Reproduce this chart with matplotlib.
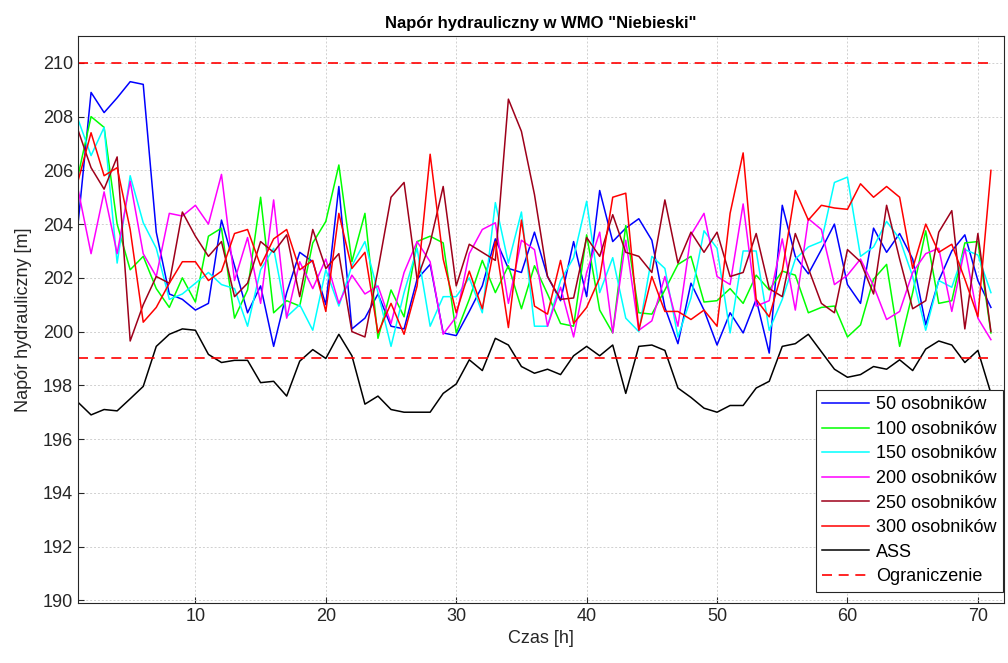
import numpy as np
import matplotlib
matplotlib.use('Agg')
import matplotlib.pyplot as plt

plt.rcParams['font.family'] = ['Liberation Sans', 'DejaVu Sans']

# czas symulacji [h]
t = np.arange(1, 72)

# napor dla kolejnych liczebnosci populacji
h50 = [204.0, 208.9, 208.15, 208.7, 209.3, 209.2, 203.7, 201.4, 201.2, 200.8, 201.05,
       204.15, 202.45, 200.7, 201.7, 199.45, 201.45, 202.95, 202.6, 201.0, 205.4, 200.1, 200.5,
       201.4, 200.2, 200.1, 201.95, 202.5, 199.95, 199.85, 200.75, 201.7, 203.45, 202.35, 202.2,
       203.7, 202.05, 201.15, 203.35, 201.3, 205.25, 203.35, 203.85, 204.2, 203.4, 200.9, 199.55, 201.8,
       200.8, 199.5, 200.7, 199.95, 201.2, 199.2, 204.7, 202.8, 202.15, 203.05, 204.0, 201.75,
       201.05, 203.85, 202.95, 203.65, 202.7, 200.25, 201.9, 203.0, 203.6, 201.9, 200.9]
h100 = [205.8, 208.0, 207.6, 204.0, 202.3, 202.8, 201.6, 200.9, 202.0, 201.1, 203.55,
        203.85, 200.5, 201.55, 205.0, 200.7, 201.15, 200.95, 203.3, 204.1, 206.2, 202.6, 204.4,
        199.75, 201.55, 200.55, 203.35, 203.55, 203.3, 199.95, 201.2, 202.65, 201.45, 202.45, 200.85,
        202.45, 201.4, 200.3, 200.2, 203.6, 200.8, 199.95, 203.95, 200.7, 200.65, 201.55, 202.5, 202.8,
        201.1, 201.15, 201.6, 201.05, 202.1, 201.55, 202.25, 202.1, 200.7, 200.9, 200.95, 199.8,
        200.25, 201.95, 202.5, 199.45, 201.45, 203.75, 201.05, 201.15, 203.3, 203.35, 199.95]
h150 = [207.9, 206.55, 207.6, 202.55, 205.8, 204.05, 203.1, 201.2, 201.4, 201.8, 202.2,
        201.75, 201.6, 200.2, 202.3, 203.1, 200.55, 201.0, 200.05, 202.3, 200.95, 202.45, 203.35,
        201.45, 199.45, 201.45, 203.1, 200.2, 201.3, 201.3, 202.0, 200.7, 204.8, 202.55, 204.45,
        200.2, 200.2, 201.9, 202.75, 204.85, 201.45, 202.75, 200.5, 200.0, 202.8, 202.35, 199.8, 201.25,
        203.75, 203.1, 199.95, 203.0, 203.0, 200.05, 201.2, 202.7, 203.15, 203.35, 205.55, 205.75,
        202.8, 203.15, 204.1, 203.45, 202.05, 200.05, 201.9, 201.65, 203.05, 202.85, 201.45]
h200 = [205.3, 202.9, 205.2, 202.9, 205.6, 202.9, 202.05, 204.4, 204.3, 204.7, 204.0,
        205.85, 201.9, 203.5, 201.05, 204.9, 200.5, 202.6, 201.6, 202.7, 201.05, 202.1, 201.4,
        201.7, 200.3, 202.2, 203.35, 202.6, 199.9, 200.55, 202.9, 203.8, 204.05, 201.05, 203.4,
        203.05, 200.2, 201.65, 199.8, 202.2, 203.7, 199.95, 203.4, 200.05, 200.4, 202.05, 200.2, 203.6,
        204.4, 202.05, 201.75, 204.75, 200.95, 201.15, 203.45, 200.8, 204.2, 203.8, 201.75, 202.1,
        202.7, 201.7, 200.45, 200.75, 202.2, 202.9, 203.1, 200.75, 203.1, 200.5, 199.7]
h250 = [207.5, 206.1, 205.3, 206.5, 199.65, 201.0, 202.05, 201.8, 204.45, 203.55, 202.8,
        203.35, 201.3, 201.8, 203.35, 202.95, 203.6, 201.3, 203.8, 202.35, 202.9, 200.0, 199.8,
        202.3, 205.0, 205.55, 201.95, 203.3, 205.4, 201.7, 203.25, 202.95, 202.65, 208.65, 207.45,
        205.1, 202.05, 201.2, 201.25, 203.5, 202.8, 204.35, 202.95, 202.8, 202.2, 204.9, 202.55, 203.7,
        202.95, 203.7, 202.05, 202.2, 203.65, 201.6, 201.3, 203.65, 202.35, 201.05, 200.7, 203.05,
        202.6, 201.4, 204.7, 202.7, 200.85, 201.15, 203.7, 204.5, 200.1, 203.65, 200.0]
h300 = [205.6, 207.4, 205.8, 206.1, 203.8, 200.35, 200.9, 201.8, 202.6, 202.6, 201.9,
        202.25, 203.65, 203.8, 202.45, 203.45, 203.8, 202.3, 202.65, 200.75, 204.4, 202.35, 202.95,
        199.95, 201.05, 199.9, 201.7, 206.6, 202.7, 200.7, 202.25, 200.85, 203.35, 200.15, 204.15,
        200.95, 200.65, 202.65, 200.3, 200.9, 202.0, 205.0, 205.15, 200.05, 202.05, 200.75, 200.75, 200.45,
        200.8, 200.2, 204.4, 206.65, 201.2, 200.55, 202.25, 205.25, 204.15, 204.7, 204.6, 204.55,
        205.5, 205.0, 205.4, 205.0, 202.35, 204.0, 202.95, 203.25, 201.95, 200.55, 206.0]
h_ass = [197.37, 196.9, 197.1, 197.05, 197.5, 197.96, 199.45, 199.9, 200.1, 200.05, 199.15,
         198.85, 198.93, 198.93, 198.1, 198.15, 197.6, 198.9, 199.33, 199.0, 199.9, 199.1, 197.3,
         197.6, 197.1, 197.0, 197.0, 197.0, 197.7, 198.05, 198.95, 198.55, 199.75, 199.5, 198.7,
         198.45, 198.6, 198.4, 199.1, 199.45, 199.1, 199.5, 197.7, 199.45, 199.5, 199.3, 197.9, 197.55,
         197.15, 197.0, 197.25, 197.25, 197.9, 198.15, 199.45, 199.55, 199.9, 199.25, 198.6, 198.3,
         198.4, 198.7, 198.6, 198.95, 198.55, 199.35, 199.65, 199.5, 198.85, 199.3, 197.7]

h_max = 210
h_min = 199

serie = [h50, h100, h150, h200, h250, h300, h_ass]
etykiety = ['50 osobników', '100 osobników', '150 osobników', '200 osobników',
            '250 osobników', '300 osobników', 'ASS']
kolory = ['#0000ff', '#00ff00', '#00ffff', '#ff00ff', (0.62, 0.0, 0.1), '#ff0000', 'k']

fig = plt.figure(figsize=(10.08, 6.63), dpi=100)
ax = fig.add_axes([0.0774, 0.0905, 0.9186, 0.8552])

for h, lab, kol in zip(serie, etykiety, kolory):
    ax.plot(t, h, color=kol, lw=1.1, label=lab)

ax.plot([t[0], t[-1]], [h_max, h_max], '--', color='r', lw=1.2, dashes=(6, 4), label='Ograniczenie')
ax.plot([t[0], t[-1]], [h_min, h_min], '--', color='r', lw=1.2, dashes=(6, 4))

ax.set_xlim(1, 72)
ax.set_ylim(189.9, 211)
ax.set_xticks(np.arange(10, 71, 10))
ax.set_yticks(np.arange(190, 211, 2))
ax.grid(True, color='#d0d0d0', linestyle=(0, (2, 2)), lw=0.7)
ax.tick_params(direction='in', labelsize=13, colors='#262626', length=4)
for s in ax.spines.values():
    s.set_color('#262626')
    s.set_linewidth(0.8)

ax.set_title('Napór hydrauliczny w WMO "Niebieski"', fontsize=12, fontweight='bold', pad=6)
ax.set_xlabel('Czas [h]', fontsize=13, color='#262626')
ax.set_ylabel('Napór hydrauliczny [m]', fontsize=13, color='#262626', labelpad=8)

leg = ax.legend(loc='lower right', bbox_to_anchor=(0.999, 0.02), borderaxespad=0,
                fontsize=13, fancybox=False, framealpha=1, edgecolor='#262626',
                handlelength=2.6, labelspacing=0.42, borderpad=0.35, handletextpad=0.4)
leg.get_frame().set_linewidth(0.8)

fig.savefig('out.png', dpi=100)
